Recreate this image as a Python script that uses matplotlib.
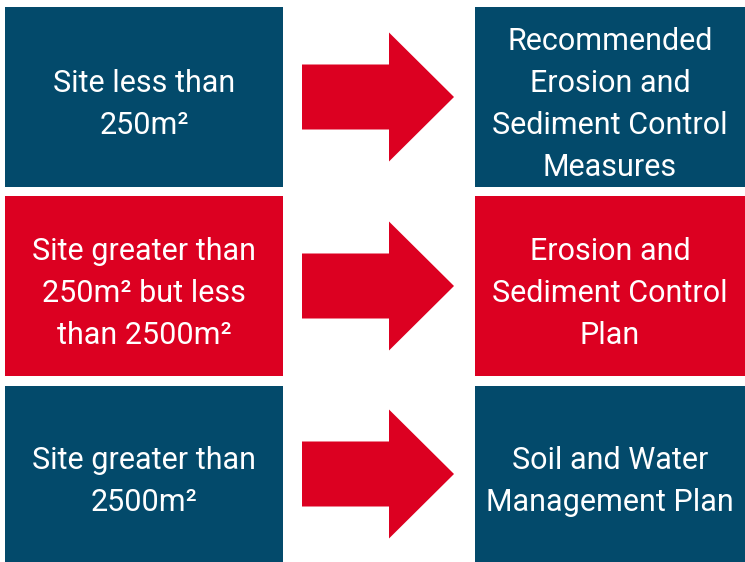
import matplotlib
matplotlib.use("Agg")
import matplotlib.pyplot as plt
from matplotlib.patches import Rectangle, Polygon

# ---- content ----
left_labels = [
    "Site less than\n250m\u00b2",
    "Site greater than\n250m\u00b2 but less\nthan 2500m\u00b2",
    "Site greater than\n2500m\u00b2",
]
right_labels = [
    "Recommended\nErosion and\nSediment Control\nMeasures",
    "Erosion and\nSediment Control\nPlan",
    "Soil and Water\nManagement Plan",
]
row_colors = ["#034A6B", "#DC0021", "#034A6B"]
arrow_color = "#DC0021"

# ---- layout (pixels) ----
W, H = 745, 562
row_tops = [7, 196, 386]
row_bottoms = [187, 376, 562]
left_x = (5, 283)
right_x = (475, 745)
shaft_x0, shaft_x1, tip_x = 302, 389, 454
shaft_half, head_half = 32.5, 64.5
line_gap = 42
text_shift = 5
cap_half = 10.8
fs = 22
font = "Roboto"

fig = plt.figure(figsize=(W / 100, H / 100), dpi=100)
ax = fig.add_axes([0, 0, 1, 1])
ax.set_xlim(0, W)
ax.set_ylim(H, 0)
ax.axis("off")


def block(x0, x1, y0, y1, color, label):
    ax.add_patch(Rectangle((x0, y0), x1 - x0, y1 - y0, facecolor=color,
                           edgecolor="none"))
    lines = label.split("\n")
    n = len(lines)
    cx = (x0 + x1) / 2
    cy = (y0 + y1) / 2 + text_shift
    for i, ln in enumerate(lines):
        yc = cy + (i - (n - 1) / 2) * line_gap
        ax.text(cx, yc + cap_half, ln, ha="center", va="baseline",
                color="white", fontsize=fs,
                family=[font, "DejaVu Sans"])


for i in range(3):
    y0, y1 = row_tops[i], row_bottoms[i]
    block(left_x[0], left_x[1], y0, y1, row_colors[i], left_labels[i])
    block(right_x[0], right_x[1], y0, y1, row_colors[i], right_labels[i])
    cy = (y0 + y1) / 2
    pts = [(shaft_x0, cy - shaft_half), (shaft_x1, cy - shaft_half),
           (shaft_x1, cy - head_half), (tip_x, cy), (shaft_x1, cy + head_half),
           (shaft_x1, cy + shaft_half), (shaft_x0, cy + shaft_half)]
    ax.add_patch(Polygon(pts, closed=True, facecolor=arrow_color,
                         edgecolor="none"))

fig.savefig("out.png", dpi=100, facecolor="white")
